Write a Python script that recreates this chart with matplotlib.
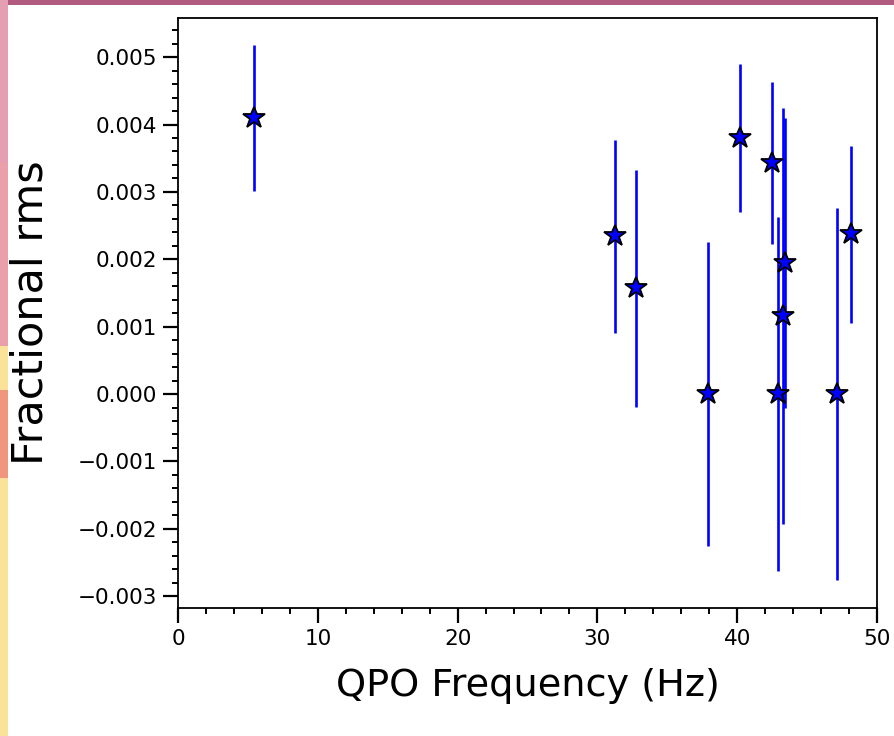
import matplotlib
matplotlib.use('Agg')
import matplotlib.pyplot as plt
from matplotlib.ticker import MultipleLocator
from matplotlib.patches import Rectangle
import numpy as np

# QPO frequency (Hz), fractional rms and its 1-sigma error
qpo_freq = [5.45, 31.25, 32.75, 37.9, 40.2, 42.5, 42.9, 43.25, 43.4, 47.15, 48.15]
frac_rms = [0.00410, 0.00234, 0.00157, 0.0, 0.00380, 0.00343, 0.0, 0.00116, 0.00194, 0.0, 0.00237]
rms_err  = [0.00108, 0.00143, 0.00176, 0.00226, 0.00110, 0.00120, 0.00263, 0.00309, 0.00215, 0.00276, 0.00131]

fig = plt.figure(figsize=(8.95, 7.36), dpi=100)

# slide decoration around the screenshot
fig.patches.append(Rectangle((0, 0.993), 1, 0.007, transform=fig.transFigure,
                             facecolor='#b05a80', edgecolor='none', zorder=0))
for y0, h, c in [(0.0, 0.35, '#fbe29a'), (0.35, 0.12, '#f0967f'), (0.47, 0.06, '#fbe29a'),
                 (0.53, 0.25, '#e9a0a8'), (0.78, 0.22, '#e4a0b2')]:
    fig.patches.append(Rectangle((0, y0), 0.009, h, transform=fig.transFigure,
                                 facecolor=c, edgecolor='none', zorder=0))

ax = fig.add_axes([0.1989, 0.1739, 0.781, 0.8016])

ax.errorbar(qpo_freq, frac_rms, yerr=rms_err, fmt='none', ecolor='blue',
            elinewidth=1.9, capsize=0, zorder=2)
ax.plot(qpo_freq, frac_rms, linestyle='none', marker='*', markersize=16.5,
        markerfacecolor='blue', markeredgecolor='black', markeredgewidth=1.3, zorder=3)

ax.set_xlim(0, 50)
ax.set_ylim(-0.003175, 0.00558)
ax.set_xticks([0, 10, 20, 30, 40, 50])
ax.set_yticks([-0.003, -0.002, -0.001, 0.0, 0.001, 0.002, 0.003, 0.004, 0.005])
ax.xaxis.set_minor_locator(MultipleLocator(2))
ax.yaxis.set_minor_locator(MultipleLocator(0.0002))

ax.tick_params(which='major', direction='out', length=11, width=1.6, labelsize=15.5,
               pad=4, top=False, right=False)
ax.tick_params(which='minor', direction='out', length=4, width=1.4, top=False, right=False)
for s in ax.spines.values():
    s.set_linewidth(1.3)

ax.set_xlabel('QPO Frequency (Hz)', fontsize=27.5, labelpad=14)
ax.set_ylabel('Fractional rms', fontsize=31, labelpad=19)

plt.savefig('out.png', dpi=100)
